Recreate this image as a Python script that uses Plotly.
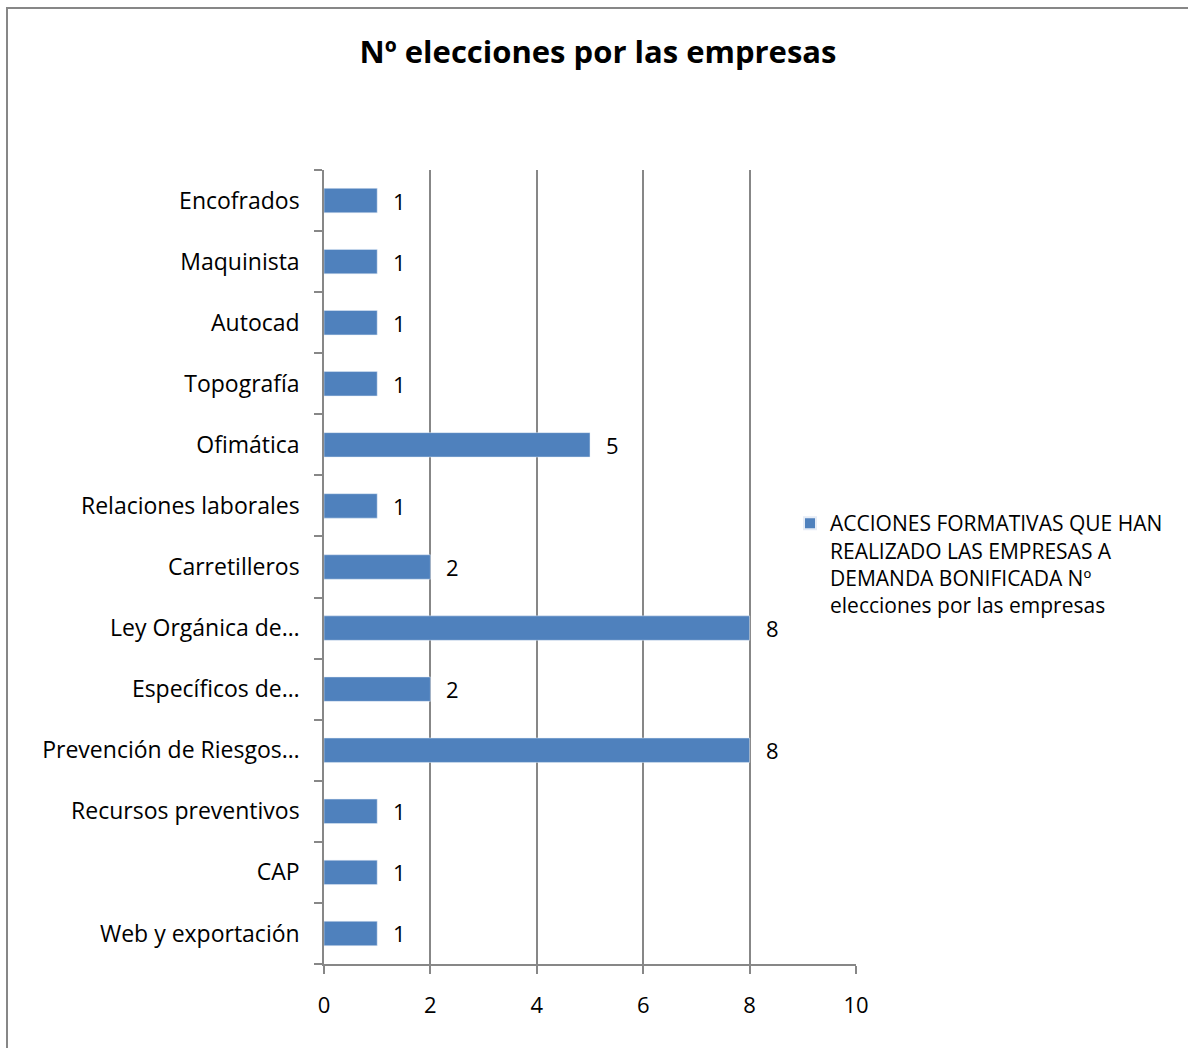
import plotly.graph_objects as go

categories = ["Web y exportación", "CAP", "Recursos preventivos", "Prevención de Riesgos…",
              "Específicos de…", "Ley Orgánica de…", "Carretilleros", "Relaciones laborales",
              "Ofimática", "Topografía", "Autocad", "Maquinista", "Encofrados"]
values = [1, 1, 1, 8, 2, 8, 2, 1, 5, 1, 1, 1, 1]
series_name = "ACCIONES FORMATIVAS QUE HAN<br>REALIZADO LAS EMPRESAS A<br>DEMANDA BONIFICADA Nº<br>elecciones por las empresas"
title_text = "Nº elecciones por las empresas"
x_ticks = [0, 2, 4, 6, 8, 10]

FONT = "'Open Sans', sans-serif"
W, H = 1188, 1048
L, R, T, B = 324, 856, 170, 964

fig = go.Figure()
fig.add_trace(go.Bar(
    y=categories, x=values, orientation="h", name=series_name,
    marker=dict(color="#4F81BD"), showlegend=True,
))

annotations = [dict(x=v, y=c, xref="x", yref="y", text=str(v), showarrow=False,
                    xanchor="left", yanchor="middle", xshift=14,
                    font=dict(family=FONT, size=22, color="#000"))
               for c, v in zip(categories, values)]

pw = R - L
ph = B - T
fig.update_layout(
    width=W, height=H,
    margin=dict(l=L, r=W - R, t=T, b=H - B, pad=0),
    paper_bgcolor="white", plot_bgcolor="white",
    bargap=0.6,
    title=dict(text="<b>" + title_text + "</b>", x=598 / W, xanchor="center",
               y=1 - 52 / H, yanchor="middle", yref="container",
               font=dict(family=FONT, size=31, color="#000")),
    font=dict(family=FONT, size=22, color="#000"),
    xaxis=dict(range=[0, 10], tickvals=x_ticks, showgrid=True, gridcolor="#878787", gridwidth=1.5,
               showline=True, linecolor="#878787", linewidth=1.5, ticks="outside", ticklen=8,
               tickcolor="#878787", tickwidth=1.5, zeroline=False, ticklabelstandoff=13,
               tickfont=dict(family=FONT, size=22, color="#000")),
    yaxis=dict(showgrid=False, showline=True, linecolor="#878787", linewidth=1.5,
               ticks="outside", ticklen=8, tickcolor="#878787", tickwidth=1.5,
               tickson="boundaries", ticklabelstandoff=18,
               tickfont=dict(family=FONT, size=23, color="#000")),
    legend=dict(x=(790 - L) / pw, y=(B - 503) / ph, xanchor="left", yanchor="top",
                font=dict(family=FONT, size=21, color="#000"), bgcolor="rgba(0,0,0,0)",
                itemsizing="constant", tracegroupgap=0, valign="top"),
    annotations=annotations,
    shapes=[dict(type="rect", xref="paper", yref="paper",
                 x0=(7 - L) / pw, x1=(W + 50 - L) / pw,
                 y0=(B - (H + 50)) / ph, y1=(B - 8) / ph,
                 line=dict(color="#878787", width=2), fillcolor="rgba(0,0,0,0)", layer="below")],
)

fig.write_html("out.html")
